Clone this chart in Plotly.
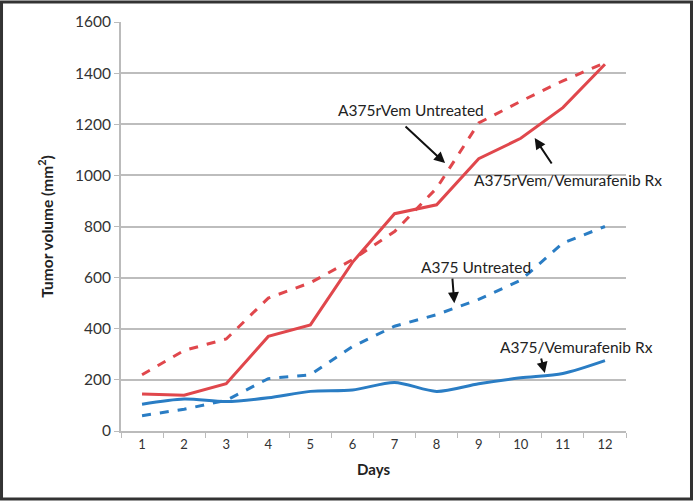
import plotly.graph_objects as go

days = ["1", "2", "3", "4", "5", "6", "7", "8", "9", "10", "11", "12"]
rvem_untreated = [220, 315, 360, 520, 580, 670, 780, 950, 1205, 1290, 1370, 1440]
rvem_rx = [145, 140, 185, 370, 415, 660, 850, 885, 1065, 1145, 1265, 1435]
a375_untreated = [60, 85, 120, 205, 220, 330, 410, 455, 515, 590, 735, 800]
a375_rx = [105, 125, 115, 130, 155, 160, 190, 155, 185, 208, 225, 275]

RED = "#E0474C"
BLUE = "#2A7DC4"
FONT = "Lato"

fig = go.Figure()
fig.add_trace(go.Scatter(x=days, y=rvem_untreated, mode="lines",
                         line=dict(color=RED, width=3, dash="dash"), name="A375rVem Untreated"))
fig.add_trace(go.Scatter(x=days, y=rvem_rx, mode="lines",
                         line=dict(color=RED, width=3), name="A375rVem/Vemurafenib Rx"))
fig.add_trace(go.Scatter(x=days, y=a375_untreated, mode="lines",
                         line=dict(color=BLUE, width=3, dash="dash"), name="A375 Untreated"))
fig.add_trace(go.Scatter(x=days, y=a375_rx, mode="lines",
                         line=dict(color=BLUE, width=3, shape="spline", smoothing=0.8),
                         name="A375/Vemurafenib Rx"))

arrows = [
    dict(x=7.20, y=1048, ax=-41, ay=-38),
    dict(x=9.33, y=1146, ax=18, ay=27),
    dict(x=7.42, y=500, ax=-2, ay=-26),
    dict(x=9.57, y=227, ax=-4, ay=-16),
]
annos = []
for a in arrows:
    annos.append(dict(x=a["x"], y=a["y"], ax=a["ax"], ay=a["ay"], xref="x", yref="y",
                      text="", showarrow=True, arrowhead=2, arrowsize=1.1,
                      arrowwidth=2, arrowcolor="#111111"))
labels = [
    ("A375rVem Untreated", 6.39, 1256),
    ("A375rVem/Vemurafenib Rx", 10.12, 982),
    ("A375 Untreated", 7.94, 642),
    ("A375/Vemurafenib Rx", 10.33, 329),
]
for t, x, y in labels:
    annos.append(dict(x=x, y=y, xref="x", yref="y", text=t, showarrow=False,
                      font=dict(family=FONT, size=15.5, color="#222222")))

fig.update_layout(
    width=693, height=502,
    margin=dict(l=121, r=67, t=22, b=71, autoexpand=False),
    paper_bgcolor="white", plot_bgcolor="white",
    showlegend=False,
    font=dict(family=FONT, size=12, color="#333333"),
    annotations=annos,
    shapes=[dict(type="rect", xref="paper", yref="paper",
                 x0=-0.2366, x1=1.1297, y0=-0.1663, y1=1.0489,
                 line=dict(color="#333333", width=3))],
)
fig.update_xaxes(type="category", range=[-0.5, 11.5], tickson="boundaries",
                 automargin=False,
                 ticks="outside", ticklen=5, tickcolor="#BBBBBB",
                 showline=True, linecolor="#BBBBBB", linewidth=2,
                 showgrid=False, tickfont=dict(size=13, color="#333333"),
                 title=dict(text="<b>Days</b>", font=dict(size=15, color="#222222"), standoff=14))
fig.update_yaxes(range=[0, 1600], dtick=200, ticks="outside", ticklen=5,
                 automargin=False,
                 tickcolor="#BBBBBB", showline=True, linecolor="#BBBBBB", linewidth=2,
                 showgrid=True, gridcolor="#BDBDBD", gridwidth=1.5, zeroline=False,
                 tickfont=dict(size=15.5, color="#333333"),
                 title=dict(text="<b>Tumor volume (mm<sup>2</sup>)</b>",
                            font=dict(size=15.5, color="#222222"), standoff=18))

fig.write_html("out.html", config={"displayModeBar": False},
               post_script="document.body.style.margin='0';document.body.style.overflow='hidden';")
